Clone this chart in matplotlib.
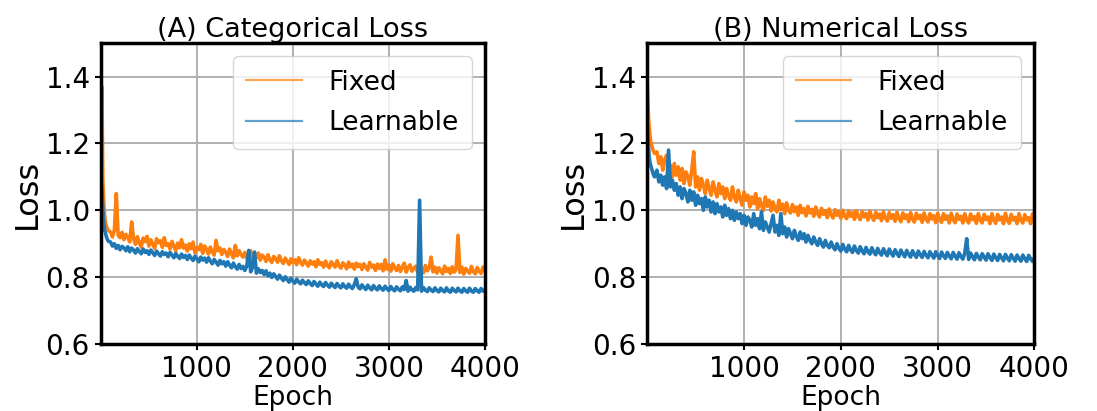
import numpy as np
import matplotlib
matplotlib.use("Agg")
import matplotlib.pyplot as plt

# x positions (epochs): dense at the start, then every 20 epochs
epochs = [0, 5, 10, 15, 20, 30, 40, 50, 60, 75] + list(range(100, 4001, 20))

cat_fixed = [
    1.25, 1.33, 1.37, 1.22, 1.09, 1.02, 0.98, 0.96, 0.95, 0.94,
    0.935, 0.92, 0.94, 1.05, 0.925, 0.918, 0.934, 0.912, 0.928, 0.92,
    0.905, 0.965, 0.915, 0.898, 0.921, 0.902, 0.89, 0.917, 0.906, 0.922,
    0.893, 0.912, 0.899, 0.886, 0.915, 0.903, 0.909, 0.889, 0.918, 0.895,
    0.9, 0.884, 0.907, 0.893, 0.879, 0.902, 0.888, 0.912, 0.887, 0.896,
    0.878, 0.9, 0.885, 0.905, 0.873, 0.889, 0.882, 0.898, 0.871, 0.893,
    0.884, 0.869, 0.89, 0.875, 0.866, 0.91, 0.879, 0.887, 0.868, 0.883,
    0.875, 0.862, 0.884, 0.87, 0.858, 0.895, 0.864, 0.879, 0.867, 0.86,
    0.874, 0.856, 0.868, 0.879, 0.853, 0.865, 0.858, 0.872, 0.851, 0.866,
    0.86, 0.847, 0.867, 0.852, 0.844, 0.862, 0.855, 0.845, 0.864, 0.849,
    0.841, 0.857, 0.848, 0.838, 0.855, 0.843, 0.852, 0.837, 0.858, 0.845,
    0.836, 0.851, 0.842, 0.833, 0.849, 0.839, 0.846, 0.831, 0.852, 0.838,
    0.843, 0.83, 0.848, 0.835, 0.828, 0.846, 0.837, 0.83, 0.849, 0.834,
    0.827, 0.843, 0.836, 0.825, 0.845, 0.831, 0.839, 0.824, 0.842, 0.832,
    0.838, 0.823, 0.84, 0.829, 0.821, 0.844, 0.83, 0.836, 0.82, 0.839,
    0.826, 0.838, 0.819, 0.852, 0.824, 0.836, 0.818, 0.84, 0.827, 0.82,
    0.835, 0.817, 0.83, 0.842, 0.815, 0.829, 0.837, 0.818, 0.826, 0.833,
    0.814, 0.832, 0.822, 0.813, 0.835, 0.819, 0.827, 0.86, 0.816, 0.83,
    0.812, 0.828, 0.82, 0.81, 0.833, 0.817, 0.826, 0.811, 0.831, 0.815,
    0.823, 0.925, 0.814, 0.83, 0.809, 0.826, 0.818, 0.812, 0.832, 0.816,
    0.81, 0.829, 0.818, 0.811, 0.83, 0.82,
]

cat_learn = [
    1.09, 1.08, 1.06, 1.03, 1.0, 0.96, 0.94, 0.928, 0.918, 0.908,
    0.905, 0.893, 0.9, 0.886, 0.895, 0.882, 0.892, 0.888, 0.879, 0.891,
    0.876, 0.887, 0.881, 0.872, 0.885, 0.877, 0.87, 0.884, 0.874, 0.879,
    0.868, 0.881, 0.873, 0.865, 0.878, 0.87, 0.863, 0.876, 0.868, 0.872,
    0.861, 0.874, 0.866, 0.858, 0.871, 0.862, 0.856, 0.869, 0.859, 0.865,
    0.853, 0.866, 0.857, 0.85, 0.863, 0.855, 0.846, 0.86, 0.851, 0.857,
    0.845, 0.858, 0.848, 0.84, 0.853, 0.845, 0.836, 0.85, 0.84, 0.846,
    0.833, 0.846, 0.836, 0.828, 0.842, 0.831, 0.824, 0.838, 0.826, 0.832,
    0.82, 0.834, 0.88, 0.816, 0.829, 0.875, 0.812, 0.825, 0.814, 0.82,
    0.808, 0.819, 0.804, 0.812, 0.799, 0.81, 0.802, 0.794, 0.806, 0.797,
    0.79, 0.801, 0.793, 0.785, 0.797, 0.788, 0.782, 0.794, 0.786, 0.78,
    0.791, 0.783, 0.778, 0.789, 0.781, 0.775, 0.787, 0.779, 0.773, 0.785,
    0.777, 0.772, 0.784, 0.776, 0.77, 0.782, 0.774, 0.769, 0.781, 0.773,
    0.768, 0.78, 0.772, 0.767, 0.779, 0.771, 0.766, 0.778, 0.795, 0.77,
    0.765, 0.777, 0.769, 0.763, 0.776, 0.768, 0.762, 0.775, 0.767, 0.762,
    0.774, 0.766, 0.761, 0.773, 0.765, 0.76, 0.772, 0.764, 0.759, 0.771,
    0.764, 0.759, 0.771, 0.763, 0.79, 0.758, 0.77, 0.762, 0.758, 0.769,
    0.762, 1.03, 0.758, 0.769, 0.761, 0.757, 0.768, 0.761, 0.757, 0.768,
    0.76, 0.756, 0.767, 0.76, 0.756, 0.768, 0.759, 0.755, 0.767, 0.76,
    0.756, 0.767, 0.759, 0.755, 0.766, 0.759, 0.755, 0.767, 0.758, 0.755,
    0.766, 0.759, 0.755, 0.766, 0.758, 0.762,
]

num_fixed = [
    1.38, 1.34, 1.3, 1.27, 1.25, 1.22, 1.2, 1.19, 1.18, 1.17,
    1.175, 1.14, 1.16, 1.12, 1.15, 1.165, 1.115, 1.135, 1.1, 1.14,
    1.105, 1.13, 1.09, 1.125, 1.08, 1.115, 1.1, 1.075, 1.12, 1.175,
    1.07, 1.1, 1.06, 1.095, 1.075, 1.05, 1.09, 1.065, 1.045, 1.085,
    1.06, 1.04, 1.08, 1.05, 1.07, 1.035, 1.065, 1.045, 1.03, 1.07,
    1.04, 1.025, 1.06, 1.035, 1.015, 1.055, 1.03, 1.045, 1.01, 1.04,
    1.02, 1.05, 1.005, 1.035, 1.015, 1.0, 1.04, 1.012, 1.03, 0.998,
    1.025, 1.005, 0.995, 1.03, 1.002, 1.018, 0.99, 1.022, 1.0, 0.992,
    1.017, 0.996, 1.01, 0.985, 1.015, 0.993, 1.005, 0.983, 1.012, 0.992,
    1.003, 0.982, 1.01, 0.99, 0.98, 1.006, 0.988, 0.999, 0.978, 1.004,
    0.986, 0.977, 1.002, 0.985, 0.996, 0.976, 1.0, 0.983, 0.975, 0.998,
    0.982, 0.993, 0.973, 0.999, 0.981, 0.972, 0.996, 0.98, 0.99, 0.971,
    0.997, 0.979, 0.97, 0.994, 0.978, 0.989, 0.969, 0.995, 0.977, 0.968,
    0.993, 0.976, 0.987, 0.967, 0.994, 0.975, 0.966, 0.992, 0.976, 0.986,
    0.966, 0.993, 0.974, 0.965, 0.991, 0.975, 0.985, 0.964, 0.992, 0.973,
    0.965, 0.99, 0.974, 0.984, 0.963, 0.991, 0.972, 0.964, 0.99, 0.973,
    0.983, 0.962, 0.991, 0.972, 0.963, 0.989, 0.973, 0.982, 0.962, 0.99,
    0.971, 0.962, 0.989, 0.972, 0.981, 0.961, 0.99, 0.971, 0.962, 0.988,
    0.972, 0.98, 0.96, 0.99, 0.97, 0.961, 0.988, 0.971, 0.98, 0.96,
    0.991, 0.97, 0.961, 0.988, 0.971, 0.979, 0.96, 0.99, 0.97, 0.962,
    0.987, 0.971, 0.978, 0.96, 0.989, 0.972,
]

num_learn = [
    1.25, 1.22, 1.2, 1.18, 1.16, 1.14, 1.13, 1.12, 1.11, 1.1,
    1.12, 1.085, 1.105, 1.075, 1.1, 1.065, 1.18, 1.07, 1.09, 1.06,
    1.08, 1.045, 1.07, 1.035, 1.065, 1.05, 1.025, 1.06, 1.03, 1.055,
    1.015, 1.045, 1.02, 1.035, 1.0, 1.04, 1.01, 1.03, 0.995, 1.025,
    0.99, 1.02, 0.995, 1.01, 0.98, 1.015, 0.985, 1.005, 0.975, 1.0,
    0.97, 0.995, 0.975, 0.99, 0.96, 0.985, 0.955, 0.98, 0.97, 0.95,
    0.99, 0.955, 0.975, 0.945, 0.995, 0.94, 0.965, 0.95, 0.935, 0.96,
    0.985, 0.935, 0.955, 0.925, 0.99, 0.93, 0.95, 0.92, 0.945, 0.93,
    0.915, 0.94, 0.922, 0.91, 0.935, 0.915, 0.93, 0.905, 0.925, 0.91,
    0.9, 0.92, 0.905, 0.895, 0.915, 0.9, 0.89, 0.91, 0.895, 0.888,
    0.905, 0.89, 0.882, 0.9, 0.886, 0.878, 0.898, 0.884, 0.876, 0.895,
    0.882, 0.874, 0.893, 0.88, 0.872, 0.891, 0.878, 0.87, 0.889, 0.876,
    0.869, 0.888, 0.875, 0.867, 0.886, 0.874, 0.866, 0.885, 0.873, 0.864,
    0.884, 0.872, 0.863, 0.882, 0.871, 0.862, 0.881, 0.87, 0.861, 0.88,
    0.869, 0.86, 0.879, 0.868, 0.859, 0.878, 0.867, 0.859, 0.877, 0.866,
    0.858, 0.876, 0.866, 0.857, 0.876, 0.865, 0.856, 0.875, 0.864, 0.856,
    0.874, 0.863, 0.855, 0.874, 0.863, 0.854, 0.873, 0.862, 0.854, 0.872,
    0.915, 0.853, 0.872, 0.861, 0.852, 0.871, 0.86, 0.852, 0.87, 0.86,
    0.851, 0.87, 0.859, 0.85, 0.869, 0.858, 0.85, 0.868, 0.858, 0.849,
    0.868, 0.857, 0.849, 0.867, 0.857, 0.848, 0.866, 0.856, 0.848, 0.866,
    0.855, 0.847, 0.865, 0.855, 0.847, 0.858,
]

titles = ["(A) Categorical Loss", "(B) Numerical Loss"]
series_labels = ["Fixed", "Learnable"]
xticks = [1000, 2000, 3000, 4000]
yticks = [0.6, 0.8, 1.0, 1.2, 1.4]

fig = plt.figure(figsize=(10.97, 4.11), dpi=100)
ax1 = fig.add_axes([0.092, 0.163, 0.350, 0.732])
ax2 = fig.add_axes([0.590, 0.163, 0.353, 0.732])

data = [(cat_fixed, cat_learn), (num_fixed, num_learn)]
for ax, title, (fx, lr) in zip([ax1, ax2], titles, data):
    ax.plot(epochs, fx, color="#ff7f0e", lw=2.6, label=series_labels[0])
    ax.plot(epochs, lr, color="#1f77b4", lw=2.6, label=series_labels[1])
    ax.set_xlim(0, 4000)
    ax.set_ylim(0.6, 1.5)
    ax.set_xticks(xticks)
    ax.set_yticks(yticks)
    ax.tick_params(labelsize=20, length=4, width=1.5, pad=4)
    ax.grid(True, color="#b0b0b0", lw=1.4)
    ax.set_axisbelow(True)
    for s in ax.spines.values():
        s.set_linewidth(2.5)
        s.set_color("black")
    ax.set_title(title, fontsize=19.5, pad=3)
    ax.set_xlabel("Epoch", fontsize=19, labelpad=1)
    ax.set_ylabel("Loss", fontsize=23, labelpad=2)
    leg = ax.legend(loc="upper right", fontsize=19, handlelength=2.1,
                    borderpad=0.5, labelspacing=0.55, handletextpad=1.0,
                    borderaxespad=0.5, framealpha=0.8, fancybox=True)
    for h in leg.get_lines():
        h.set_linewidth(1.6)
        h.set_alpha(0.7)

fig.savefig("out.png", dpi=100)
